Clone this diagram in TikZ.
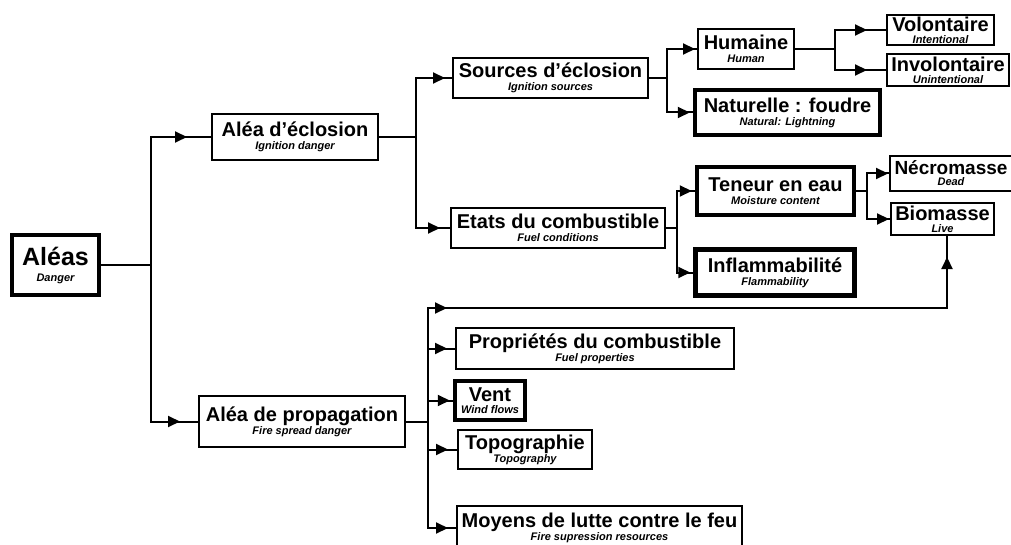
\documentclass[tikz,border=0pt]{standalone}
\usepackage{fontspec}
\setmainfont{Liberation Sans}
\usetikzlibrary{arrows.meta,decorations.markings}
\newcommand\ttlfont{\fontsize{20}{24}\selectfont\bfseries}
\newcommand\subt{\fontsize{11}{13}\selectfont\bfseries\itshape}
\tikzset{
  tri/.tip={Triangle[length=12pt,width=11pt]},
  box/.style={draw, line width=2pt, inner sep=0pt, align=center, font=\ttlfont},
  thickbox/.style={box, line width=4.5pt},
  conn/.style={line width=2pt},
  arr/.style={conn, postaction={decorate},
    decoration={markings, mark=at position -#1 with {\arrow{tri}}}},
}
\begin{document}
\begin{tikzpicture}[x=1pt,y=-1pt]
\useasboundingbox (0,0) rectangle (1011,545);
% boxes
\node[thickbox, minimum width=87, minimum height=60, font=\fontsize{25}{30}\selectfont\bfseries] (aleas) at (55.5,265) {Aléas\\[-14pt]{\subt Danger}};
\node[box, minimum width=166, minimum height=46] (ecl) at (295,137) {Aléa d'éclosion\\[-11pt]{\subt Ignition danger}};
\node[box, minimum width=206, minimum height=51] (prop) at (302,421.5) {Aléa de propagation\\[-11pt]{\subt Fire spread danger}};
\node[box, minimum width=195, minimum height=40] (src) at (550.5,78) {Sources d'éclosion\\[-11pt]{\subt Ignition sources}};
\node[box, minimum width=214, minimum height=40] (etats) at (558,228) {Etats du combustible\\[-11pt]{\subt Fuel conditions}};
\node[box, minimum width=96, minimum height=40] (hum) at (746,49) {Humaine\\[-11pt]{\subt Human}};
\node[thickbox, minimum width=185, minimum height=45] (nat) at (787.5,112.5) {Naturelle : foudre\\[-11pt]{\subt Natural: Lightning}};
\node[box, minimum width=107, minimum height=30] (vol) at (940.5,30) {Volontaire\\[-12pt]{\subt Intentional}};
\node[box, minimum width=122, minimum height=32] (invol) at (948,70) {Involontaire\\[-12pt]{\subt Unintentional}};
\node[thickbox, minimum width=157, minimum height=48] (ten) at (775.5,191) {Teneur en eau\\[-11pt]{\subt Moisture content}};
\node[thickbox, minimum width=159, minimum height=46] (infl) at (775,272.5) {Inflammabilité\\[-11pt]{\subt Flammability}};
\node[box, minimum width=122, minimum height=35, font=\fontsize{19}{23}\selectfont\bfseries] (necro) at (951,173.5) {Nécromasse\\[-12pt]{\subt Dead}};
\node[box, minimum width=103, minimum height=32] (bio) at (942.5,219) {Biomasse\\[-12pt]{\subt Live}};
\node[box, minimum width=278, minimum height=41] (propr) at (595,348.5) {Propriétés du combustible\\[-11pt]{\subt Fuel properties}};
\node[thickbox, minimum width=70, minimum height=39] (vent) at (490,400.5) {Vent\\[-12pt]{\subt Wind flows}};
\node[box, minimum width=134, minimum height=39] (topo) at (525,449.5) {Topographie\\[-11pt]{\subt Topography}};
\node[box, minimum width=285, minimum height=44] (moy) at (599.5,528) {Moyens de lutte contre le feu\\[-11pt]{\subt Fire supression resources}};
% junctions
\coordinate (j1) at (151,265);
\coordinate (j2) at (416,137);
\coordinate (j3) at (667,78);
\coordinate (j4) at (835,49);
\coordinate (j5) at (677,228);
\coordinate (j6) at (867,191);
\coordinate (j7) at (428,421.5);
\coordinate (j8) at (947,308);
% connectors
\draw[conn] (aleas.east) -- (j1);
\draw[arr=24pt] (j1) |- (ecl.west);
\draw[arr=18pt] (j1) |- (prop.west);
\draw[conn] (ecl.east) -- (j2);
\draw[arr=7pt] (j2) |- (src.west);
\draw[arr=10pt] (j2) |- (etats.west);
\draw[conn] (src.east) -- (j3);
\draw[arr=2pt] (j3) |- (hum.west);
\draw[arr=3pt] (j3) |- (nat.west);
\draw[conn] (hum.east) -- (j4);
\draw[arr=19pt] (j4) |- (vol.west);
\draw[arr=19pt] (j4) |- (invol.west);
\draw[conn] (etats.east) -- (j5);
\draw[arr=3pt] (j5) |- (ten.west);
\draw[arr=3pt] (j5) |- (infl.west);
\draw[conn] (ten.east) -- (j6);
\draw[arr=1pt] (j6) |- (necro.west);
\draw[arr=1pt] (j6) |- (bio.west);
\draw[conn] (prop.east) -- (j7);
\draw[arr=8pt] (j7) |- (propr.west);
\draw[arr=3pt] (j7) |- (vent.west);
\draw[arr=9pt] (j7) |- (topo.west);
\draw[arr=8pt] (j7) |- (moy.west);
\draw[conn, postaction={decorate}, decoration={markings,
  mark=at position 132.5pt with {\arrow{tri}},
  mark=at position -21pt with {\arrow{tri}}}]
  (j7) |- (j8) -- (j8 |- bio.south);
\end{tikzpicture}
\end{document}
